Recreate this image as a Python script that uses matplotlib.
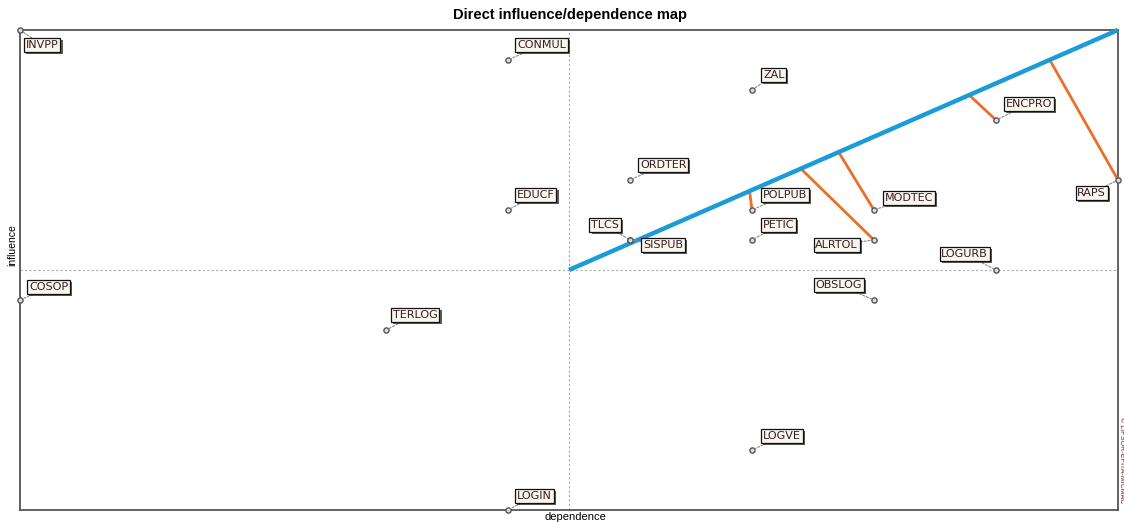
import matplotlib.pyplot as plt
import matplotlib.patheffects as pe

# ---------------- data --------------------------
names = ["INVPP", "CONMUL", "ZAL", "ENCPRO", "ORDTER", "EDUCF", "POLPUB", "MODTEC",
         "RAPS", "TLCS", "SISPUB", "PETIC", "ALRTOL", "LOGURB", "OBSLOG", "COSOP",
         "TERLOG", "LOGVE", "LOGIN"]
dependence = [0, 4, 6, 8, 5, 4, 6, 7, 9, 5, 5, 6, 7, 8, 7, 0, 3, 6, 4]
influence = [16, 15, 14, 13, 11, 10, 10, 10, 11, 9, 9, 9, 9, 8, 7, 7, 6, 2, 0]

# orange segments: variable -> dependence value of its foot on the diagonal
orange_vars = ["RAPS", "ENCPRO", "MODTEC", "ALRTOL", "POLPUB"]
orange_foot_x = [8.44, 7.78, 6.71, 6.40, 5.98]

# label offsets in pixels (dx, dy, alignment)
offsets = {
    "INVPP": (6, -15, "left"), "CONMUL": (9, 15, "left"), "ZAL": (11, 15, "left"),
    "ENCPRO": (10, 16, "left"), "ORDTER": (10, 15, "left"), "EDUCF": (9, 15, "left"),
    "POLPUB": (11, 15, "left"), "MODTEC": (11, 12, "left"), "RAPS": (-12, -13, "right"),
    "TLCS": (-11, 15, "right"), "SISPUB": (13, -5, "left"), "PETIC": (11, 15, "left"),
    "ALRTOL": (-16, -5, "right"), "LOGURB": (-8, 16, "right"), "OBSLOG": (-12, 15, "right"),
    "COSOP": (9, 13, "left"), "TERLOG": (7, 15, "left"), "LOGVE": (11, 14, "left"),
    "LOGIN": (9, 14, "left"),
}

xmin, xmax = 0, 9
ymin, ymax = 0, 16
xmid, ymid = (xmin + xmax) / 2, (ymin + ymax) / 2

fig = plt.figure(figsize=(11.24, 5.22), dpi=100)
ax = fig.add_axes([20 / 1124, 1 - 510 / 522, 1098 / 1124, 480 / 522])
ax.set_xlim(xmin, xmax)
ax.set_ylim(ymin, ymax)
ax.set_xticks([])
ax.set_yticks([])
for s in ax.spines.values():
    s.set_color("#555555")
    s.set_linewidth(1.3)

ax.axvline(xmid, color="#aaaaaa", ls=(0, (2, 2)), lw=0.8)
ax.axhline(ymid, color="#aaaaaa", ls=(0, (2, 2)), lw=0.8)

# diagonal
slope = (ymax - ymid) / (xmax - xmid)
ax.plot([xmid, xmax], [ymid, ymax], color="#1b9bd7", lw=3.2, solid_capstyle="butt", zorder=4, clip_on=False)

for v, fx in zip(orange_vars, orange_foot_x):
    i = names.index(v)
    fy = ymid + (fx - xmid) * slope
    ax.plot([fx, dependence[i]], [fy, influence[i]], color="#ea6f2b", lw=2, zorder=3, clip_on=False)

ax.scatter(dependence, influence, s=14, facecolor="#dddddd", edgecolor="#555555", lw=1, zorder=5, clip_on=False)

for n, x, y in zip(names, dependence, influence):
    dx, dy, ha = offsets[n]
    t = ax.annotate(n, (x, y), xytext=(dx * 0.72, dy * 0.72), textcoords="offset points",
                    ha=ha, va="center", fontsize=8, color="#3a1a22", zorder=6,
                    bbox=dict(boxstyle="square,pad=0.15", fc="#f7f7f0", ec="#111111", lw=0.9),
                    arrowprops=dict(arrowstyle="-", color="#888888", lw=0.8, ls=(0, (2, 1.5)),
                                    shrinkA=0, shrinkB=2))
    t.get_bbox_patch().set_path_effects([pe.withSimplePatchShadow(offset=(1.5, -1.5), shadow_rgbFace="#333333", alpha=0.8)])

fig.text(570 / 1124, 1 - 15 / 522, "Direct influence/dependence map", ha="center", va="center",
         fontsize=10.5, fontweight="bold", family="Liberation Sans")
fig.text(575 / 1124, 1 - 517 / 522, "dependence", ha="center", va="center", fontsize=8,
         family="Liberation Sans")
fig.text(12 / 1124, 1 - 245 / 522, "influence", ha="center", va="center", fontsize=7.5,
         rotation=90, family="Liberation Sans")
fig.text(1121 / 1124, 1 - 460 / 522, "© LIPSOR-EPITA-MICMAC", ha="center", va="center",
         fontsize=5, rotation=-90, color="#7a2020", family="Liberation Sans")

plt.savefig("out.png", dpi=100)
